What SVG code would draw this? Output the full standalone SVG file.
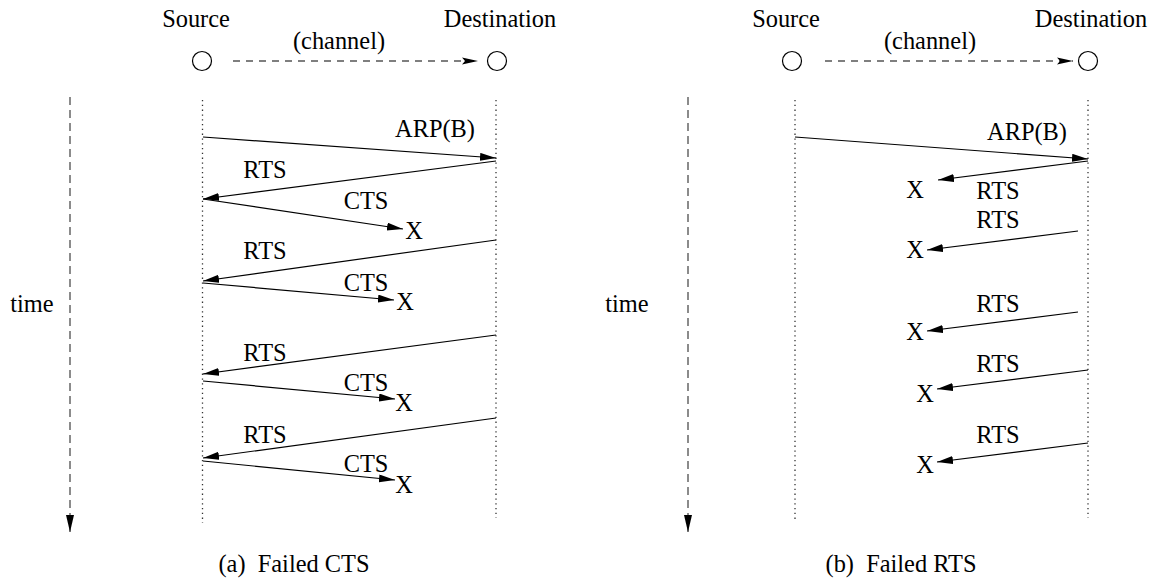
<svg xmlns="http://www.w3.org/2000/svg" width="1155" height="579" viewBox="0 0 1155 579">
<style>
.t{font-size:24.4px;fill:#000;text-anchor:middle}
.msg{stroke:#000;stroke-width:1.2;fill:none;marker-end:url(#ah)}
.life{stroke:#333;stroke-width:1.3;stroke-dasharray:1.3 3.5;fill:none}
.chan{stroke:#000;stroke-width:1.2;stroke-dasharray:7 6;fill:none;marker-end:url(#ch)}
.time{stroke:#666;stroke-width:1.5;stroke-dasharray:8 5;fill:none;marker-end:url(#th)}
.node{fill:#fff;stroke:#000;stroke-width:1.2}
</style>
<defs>
<marker id="ah" markerUnits="userSpaceOnUse" markerWidth="17" markerHeight="9" refX="16" refY="4" orient="auto"><path d="M0,0 L16,4 L0,8 z" fill="#000"/></marker>
<marker id="ch" markerUnits="userSpaceOnUse" markerWidth="17" markerHeight="9" refX="16" refY="4" orient="auto"><path d="M0,0.5 L16,4 L0,7.5 L3,4 z" fill="#000"/></marker>
<marker id="th" markerUnits="userSpaceOnUse" markerWidth="18" markerHeight="9" refX="17" refY="4" orient="auto"><path d="M0,0 L17,4 L0,8 z" fill="#000"/></marker>
</defs>
<g font-family="Liberation Serif, Times New Roman, DejaVu Serif, serif">
<!-- Panel (a) -->
<g id="a-source"><text class="t" x="196" y="27">Source</text><circle class="node" cx="202" cy="61" r="9.5"/></g>
<g id="a-destination"><text class="t" x="500" y="27">Destination</text><circle class="node" cx="497" cy="61" r="9.5"/></g>
<g id="a-channel"><path class="chan" d="M233,61 H478"/><text class="t" x="339" y="49">(channel)</text></g>
<g id="a-time"><path class="time" d="M70,97 V532"/><text class="t" x="32" y="312">time</text></g>
<g id="a-lifelines"><path class="life" d="M202.5,100 V523"/><path class="life" d="M496,100 V518"/></g>
<g id="a-connectors">
<path class="msg" d="M203,137 L496,158"/>
<path class="msg" d="M496,161 L203,199"/>
<path class="msg" d="M203,199 L403,229"/>
<path class="msg" d="M496,240 L203,281"/>
<path class="msg" d="M203,283 L394,300"/>
<path class="msg" d="M496,335 L203,374"/>
<path class="msg" d="M203,381 L395,399"/>
<path class="msg" d="M496,418 L203,458"/>
<path class="msg" d="M203,461 L395,480"/>
</g>
<g id="a-labels">
<text class="t" x="435" y="137">ARP(B)</text>
<text class="t" x="265" y="178">RTS</text>
<text class="t" x="366" y="209">CTS</text>
<text class="t" x="414" y="239">X</text>
<text class="t" x="265" y="259">RTS</text>
<text class="t" x="366" y="291">CTS</text>
<text class="t" x="405" y="310">X</text>
<text class="t" x="265" y="361">RTS</text>
<text class="t" x="366" y="391">CTS</text>
<text class="t" x="404" y="411">X</text>
<text class="t" x="265" y="443">RTS</text>
<text class="t" x="366" y="472">CTS</text>
<text class="t" x="404" y="493">X</text>
</g>
<text class="t" x="294" y="572" xml:space="preserve">(a)  Failed CTS</text>

<!-- Panel (b) -->
<g id="b-source"><text class="t" x="786" y="27">Source</text><circle class="node" cx="792" cy="61" r="9.5"/></g>
<g id="b-destination"><text class="t" x="1091" y="27">Destination</text><circle class="node" cx="1088" cy="61" r="9.5"/></g>
<g id="b-channel"><path class="chan" d="M825,61 H1073"/><text class="t" x="930" y="49">(channel)</text></g>
<g id="b-time"><path class="time" d="M688,97 V532"/><text class="t" x="627" y="312">time</text></g>
<g id="b-lifelines"><path class="life" d="M795,100 V520"/><path class="life" d="M1088,100 V518"/></g>
<g id="b-connectors">
<path class="msg" d="M795,137 L1088,159"/>
<path class="msg" d="M1088,161 L938,180"/>
<path class="msg" d="M1078,231 L927,250"/>
<path class="msg" d="M1078,312 L927,331"/>
<path class="msg" d="M1088,370 L937,389"/>
<path class="msg" d="M1088,443 L937,462"/>
</g>
<g id="b-labels">
<text class="t" x="1027" y="140">ARP(B)</text>
<text class="t" x="915" y="198">X</text>
<text class="t" x="998" y="199">RTS</text>
<text class="t" x="998" y="228">RTS</text>
<text class="t" x="915" y="258">X</text>
<text class="t" x="998" y="312">RTS</text>
<text class="t" x="915" y="340">X</text>
<text class="t" x="998" y="372">RTS</text>
<text class="t" x="925" y="402">X</text>
<text class="t" x="998" y="443">RTS</text>
<text class="t" x="925" y="473">X</text>
</g>
<text class="t" x="901" y="572" xml:space="preserve">(b)  Failed RTS</text>
</g>
</svg>
